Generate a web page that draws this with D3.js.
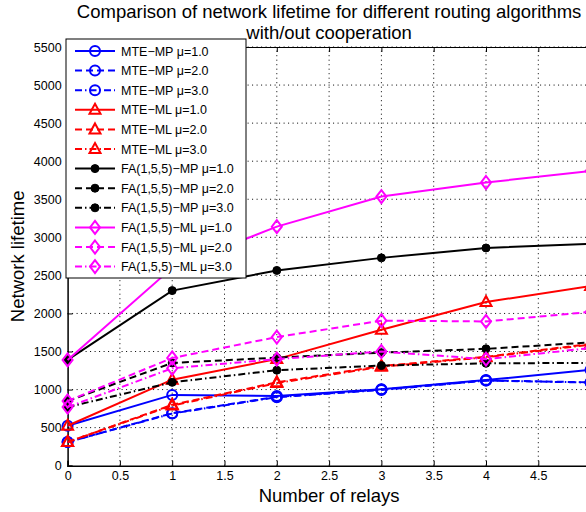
<!DOCTYPE html>
<html lang="en">
<head>
    <meta charset="UTF-8">
    <title>Network lifetime comparison</title>
    <script src="https://cdnjs.cloudflare.com/ajax/libs/d3/7.8.5/d3.min.js"></script>
    <style>
        body { margin: 0; background: #fff; }
        svg { font-family: "Liberation Sans", Arial, sans-serif; display: block; }
    </style>
</head>
<body>
    <div id="chart"></div>

    <script>
        // Data (x = number of relays)
        const relays = [0, 1, 2, 3, 4, 5];

        const mteMp1 = [525, 930, 915, 1005, 1125, 1260];
        const mteMp2 = [310, 690, 905, 1000, 1120, 1095];
        const mteMp3 = [310, 685, 900, 995, 1118, 1092];
        const mteMl1 = [525, 1130, 1400, 1785, 2150, 2360];
        const mteMl2 = [310, 800, 1095, 1310, 1430, 1600];
        const mteMl3 = [310, 790, 1085, 1300, 1425, 1590];
        const faMp1 = [1390, 2300, 2565, 2730, 2860, 2915];
        const faMp2 = [850, 1350, 1420, 1485, 1535, 1620];
        const faMp3 = [770, 1095, 1255, 1315, 1345, 1350];
        const faMl1 = [1390, 2600, 3140, 3535, 3720, 3870];
        const faMl2 = [850, 1415, 1690, 1905, 1895, 2020];
        const faMl3 = [770, 1280, 1400, 1500, 1400, 1545];

        const seriesNames = [
            "MTE\u2212MP \u03bc=1.0", "MTE\u2212MP \u03bc=2.0", "MTE\u2212MP \u03bc=3.0",
            "MTE\u2212ML \u03bc=1.0", "MTE\u2212ML \u03bc=2.0", "MTE\u2212ML \u03bc=3.0",
            "FA(1,5,5)\u2212MP \u03bc=1.0", "FA(1,5,5)\u2212MP \u03bc=2.0", "FA(1,5,5)\u2212MP \u03bc=3.0",
            "FA(1,5,5)\u2212ML \u03bc=1.0", "FA(1,5,5)\u2212ML \u03bc=2.0", "FA(1,5,5)\u2212ML \u03bc=3.0"
        ];
        const seriesValues = [mteMp1, mteMp2, mteMp3, mteMl1, mteMl2, mteMl3,
                              faMp1, faMp2, faMp3, faMl1, faMl2, faMl3];

        const xTicks = d3.range(0, 5.01, 0.5);
        const yTicks = d3.range(0, 5501, 500);

        // styling per series
        const colors = ["#0000ff", "#0000ff", "#0000ff", "#ff0000", "#ff0000", "#ff0000",
                        "#000000", "#000000", "#000000", "#ff00ff", "#ff00ff", "#ff00ff"];
        const dashes = ["none", "7,4", "7,3,1.5,3"];
        const markerType = ["circle", "circle", "circle", "triangle", "triangle", "triangle",
                            "dot", "dot", "dot", "diamond", "diamond", "diamond"];

        const W = 586, H = 512;
        const margin = {top: 47, left: 67.6};
        const plotW = 523, plotH = 418.7;

        const svg = d3.select("#chart").append("svg")
            .attr("width", W)
            .attr("height", H);

        const x = d3.scaleLinear().domain([0, 5]).range([margin.left, margin.left + plotW]);
        const y = d3.scaleLinear().domain([0, 5500]).range([margin.top + plotH, margin.top]);

        // dotted grid
        const grid = svg.append("g")
            .attr("stroke", "#000")
            .attr("stroke-width", 1)
            .attr("stroke-dasharray", "1,3.5");
        grid.selectAll(".gx").data(xTicks.slice(1)).enter().append("line")
            .attr("x1", d => x(d)).attr("x2", d => x(d))
            .attr("y1", y(0)).attr("y2", y(5500));
        grid.selectAll(".gy").data(yTicks.slice(1)).enter().append("line")
            .attr("x1", x(0)).attr("x2", x(5))
            .attr("y1", d => y(d)).attr("y2", d => y(d));

        // axes (MATLAB style, ticks pointing inwards)
        // the "5" label sits outside the cropped picture, so it is left blank
        svg.append("g")
            .attr("transform", `translate(0,${y(0)})`)
            .call(d3.axisBottom(x).tickValues(xTicks).tickSize(-5).tickPadding(5)
                .tickFormat(d => d >= 5 ? "" : d3.format("~g")(d)))
            .call(g => g.select(".domain").attr("stroke-width", 1.5));
        svg.append("g")
            .attr("transform", `translate(${x(0)},0)`)
            .call(d3.axisLeft(y).tickValues(yTicks).tickSize(-5).tickPadding(6)
                .tickFormat(d3.format("d")))
            .call(g => g.select(".domain").attr("stroke-width", 1.5));
        // top box edge
        svg.append("g")
            .attr("transform", `translate(0,${y(5500)})`)
            .call(d3.axisTop(x).tickValues(xTicks).tickSize(-5).tickFormat(""));

        svg.selectAll(".tick text")
            .attr("font-size", 12.5)
            .attr("fill", "#000")
            .attr("font-family", "Liberation Sans, Arial, sans-serif");

        // lines
        const line = d3.line()
            .x((d, i) => x(relays[i]))
            .y(d => y(d));

        const plot = svg.append("g");

        function drawMarker(g, type, color, cx, cy) {
            if (type === "circle") {
                g.append("circle").attr("cx", cx).attr("cy", cy).attr("r", 5)
                    .attr("fill", "none").attr("stroke", color).attr("stroke-width", 2);
            } else if (type === "dot") {
                g.append("circle").attr("cx", cx).attr("cy", cy).attr("r", 4)
                    .attr("fill", color).attr("stroke", color).attr("stroke-width", 1);
            } else if (type === "triangle") {
                g.append("path")
                    .attr("d", `M${cx},${cy - 6}L${cx + 5.5},${cy + 4}L${cx - 5.5},${cy + 4}Z`)
                    .attr("fill", "none").attr("stroke", color).attr("stroke-width", 2);
            } else {
                g.append("path")
                    .attr("d", `M${cx},${cy - 6.5}L${cx + 5},${cy}L${cx},${cy + 6.5}L${cx - 5},${cy}Z`)
                    .attr("fill", "none").attr("stroke", color).attr("stroke-width", 2);
            }
        }

        seriesValues.forEach((vals, k) => {
            const g = plot.append("g");
            g.append("path")
                .datum(vals)
                .attr("fill", "none")
                .attr("stroke", colors[k])
                .attr("stroke-width", 2)
                .attr("stroke-dasharray", dashes[k % 3])
                .attr("d", line);
            vals.forEach((v, i) => drawMarker(g, markerType[k], colors[k], x(relays[i]), y(v)));
        });

        // legend
        const lgX = 66, lgY = 39, lgW = 180, lgH = 239;
        const legend = svg.append("g");
        legend.append("rect")
            .attr("x", lgX).attr("y", lgY).attr("width", lgW).attr("height", lgH)
            .attr("fill", "#fff").attr("stroke", "#000").attr("stroke-width", 1);
        seriesNames.forEach((name, k) => {
            const ry = 51 + k * 19.6;
            const g = legend.append("g");
            g.append("line")
                .attr("x1", 75).attr("x2", 115).attr("y1", ry).attr("y2", ry)
                .attr("stroke", colors[k]).attr("stroke-width", 2)
                .attr("stroke-dasharray", dashes[k % 3]);
            drawMarker(g, markerType[k], colors[k], 95, ry);
            g.append("text")
                .attr("x", 121).attr("y", ry + 4.5)
                .attr("font-size", 12.5)
                .text(name);
        });

        // titles
        const cx = x(2.5);
        svg.append("text")
            .attr("x", cx).attr("y", 18)
            .attr("text-anchor", "middle")
            .attr("font-size", 18.5)
            .text("Comparison of network lifetime for different routing algorithms");
        svg.append("text")
            .attr("x", cx).attr("y", 39)
            .attr("text-anchor", "middle")
            .attr("font-size", 18.5)
            .text("with/out cooperation");

        svg.append("text")
            .attr("x", cx).attr("y", 502)
            .attr("text-anchor", "middle")
            .attr("font-size", 18.5)
            .text("Number of relays");

        svg.append("text")
            .attr("transform", `translate(24,${y(2750)}) rotate(-90)`)
            .attr("text-anchor", "middle")
            .attr("font-size", 18.5)
            .text("Network lifetime");
    </script>
</body>
</html>
